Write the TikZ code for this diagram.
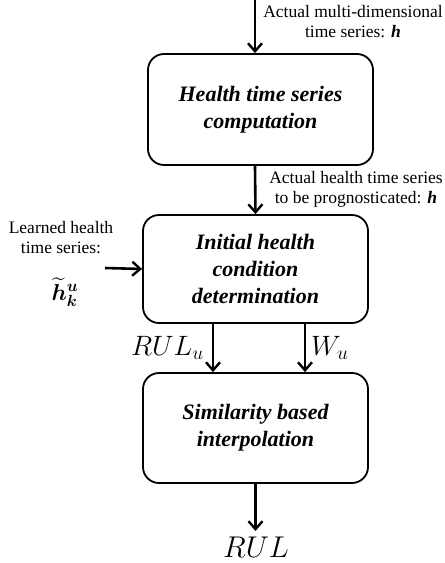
\RequirePackage{fix-cm}
\documentclass[tikz,border=0pt]{standalone}
\usepackage{fontspec}
\setmainfont{Liberation Serif}
\usepackage{amsmath,amssymb,bm}
\usetikzlibrary{arrows.meta,calc}
\begin{document}
\begin{tikzpicture}[x=1pt,y=-1pt,
  procbox/.style={draw, line width=1.8pt, rounded corners=16pt, minimum width=225pt, align=center,
    font=\fontsize{22}{27}\selectfont\bfseries\itshape},
  flow/.style={line width=2.6pt, -{Straight Barb[length=8pt,width=14pt,line width=2.4pt]}},
  lbl/.style={align=center, font=\fontsize{17.5}{20}\selectfont, inner sep=0pt},
  mathlbl/.style={inner sep=0pt, font=\fontsize{28}{32}\selectfont}]
\useasboundingbox (0,0) rectangle (445,563);
\node[procbox, minimum height=111pt] (b1) at (260.5,109.5) {Health time series\\computation};
\node[procbox, minimum height=108pt] (b2) at (255.5,269) {Initial health\\condition\\determination};
\node[procbox, minimum height=110pt] (b3) at (255.5,428) {Similarity based\\interpolation};
\coordinate (top) at (255,0);
\coordinate (lin) at (105,268);
\coordinate (bot) at (255.5,531);
\draw[flow] (top) -- (top |- b1.north);
\draw[flow] ([xshift=-5.5pt]b1.south) -- (b2.north);
\draw[flow] (lin) -- (b2.west);
\draw[flow] ([xshift=-42.5pt]b2.south) -- ([xshift=-42.5pt]b3.north);
\draw[flow] ([xshift=49.5pt]b2.south) -- ([xshift=49.5pt]b3.north);
\draw[flow] (b3.south) -- (bot);
\node[lbl] (t1) at (353,22) {Actual multi-dimensional\\time series: \textbf{\textit{h}}};
\node[lbl] (t2) at (356,189) {Actual health time series\\to be prognosticated: \textbf{\textit{h}}};
\node[lbl] (t3) at (61,238) {Learned health\\time series:};
\node[inner sep=0pt, font=\fontsize{23}{26}\selectfont] (t4) at (65,292) {$\widetilde{\bm{h}}_{\bm{k}}^{\bm{u}}$};
\node[mathlbl, anchor=east] (r1) at (204,348) {$RUL_u$};
\node[mathlbl, anchor=west] (w1) at (311,348) {$W_u$};
\node[mathlbl, font=\fontsize{30}{34}\selectfont] (r2) at (256,547) {$RUL$};
\end{tikzpicture}
\end{document}
